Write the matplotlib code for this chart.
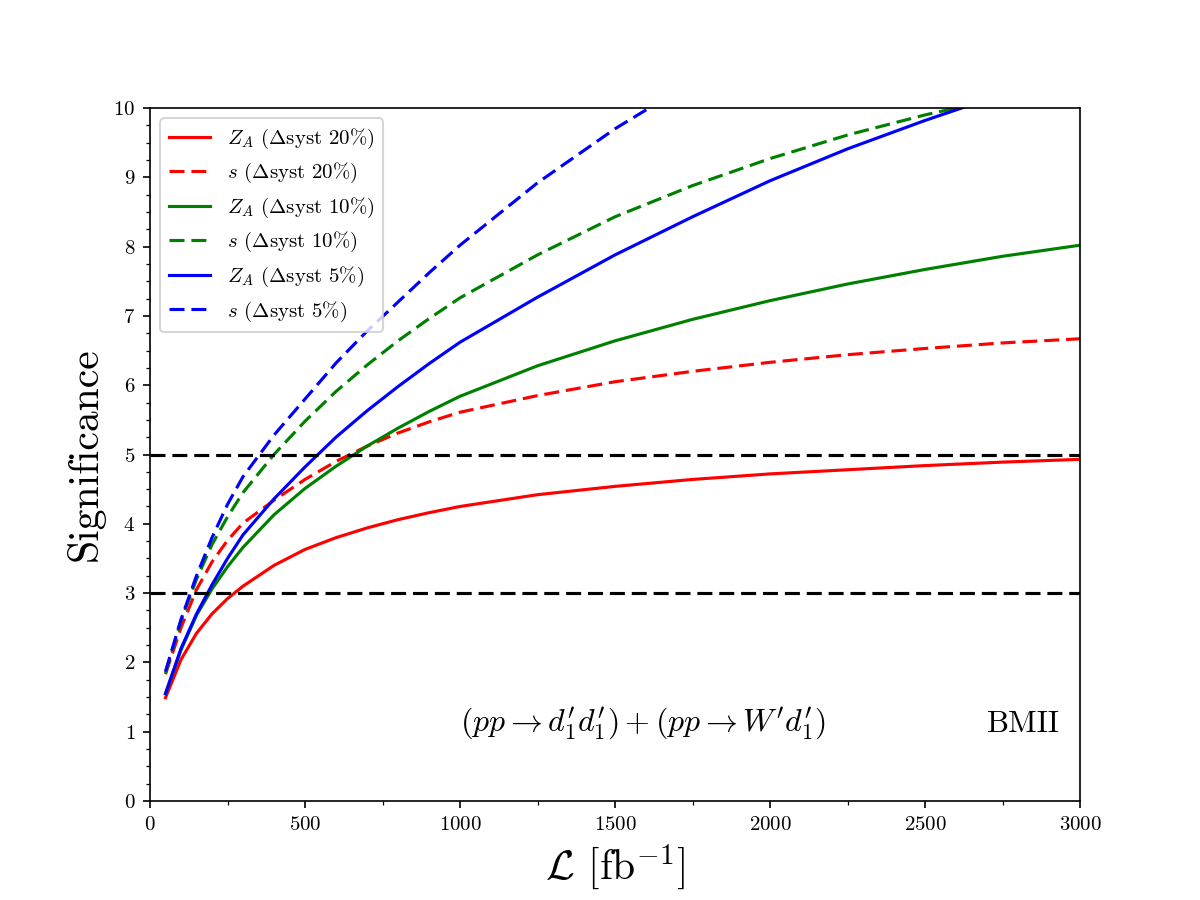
import matplotlib
matplotlib.use('Agg')
import matplotlib.pyplot as plt
from matplotlib.ticker import MultipleLocator

plt.rcParams['font.family'] = 'serif'
plt.rcParams['font.serif'] = ['cmr10']
plt.rcParams['mathtext.fontset'] = 'cm'
plt.rcParams['axes.formatter.use_mathtext'] = True

# luminosity points (fb^-1)
lumi = [50, 100, 150, 200, 250, 300, 400, 500, 600, 700, 800, 900, 1000,
        1250, 1500, 1750, 2000, 2250, 2500, 2750, 3000]

# significance
za_20 = [1.49, 2.04, 2.42, 2.70, 2.92, 3.10, 3.40, 3.63, 3.80, 3.94, 4.06,
         4.16, 4.25, 4.42, 4.54, 4.64, 4.72, 4.78, 4.84, 4.89, 4.93]
s_20 = [1.83, 2.50, 3.05, 3.45, 3.76, 4.01, 4.34, 4.64, 4.90, 5.12, 5.31,
        5.47, 5.61, 5.85, 6.05, 6.20, 6.33, 6.44, 6.53, 6.61, 6.67]
za_10 = [1.55, 2.18, 2.68, 3.06, 3.38, 3.66, 4.13, 4.51, 4.83, 5.12, 5.38,
         5.62, 5.84, 6.28, 6.64, 6.95, 7.22, 7.46, 7.67, 7.86, 8.02]
s_10 = [1.85, 2.60, 3.20, 3.70, 4.10, 4.45, 5.00, 5.48, 5.91, 6.29, 6.64,
        6.96, 7.26, 7.88, 8.43, 8.88, 9.27, 9.61, 9.90, 10.15, 10.40]
za_5 = [1.55, 2.20, 2.70, 3.12, 3.50, 3.84, 4.36, 4.82, 5.25, 5.63, 5.98,
        6.31, 6.62, 7.27, 7.88, 8.43, 8.95, 9.41, 9.82, 10.20, 10.55]
s_5 = [1.87, 2.62, 3.25, 3.80, 4.28, 4.68, 5.28, 5.80, 6.32, 6.78, 7.20,
       7.62, 8.02, 8.92, 9.70, 10.38, 11.00, 11.55, 12.05, 12.50, 12.90]

fig = plt.figure(figsize=(8, 6), dpi=150)
ax = fig.add_subplot(111)

dash = (4.8, 2.2)
ax.plot(lumi, za_20, color='red', lw=1.5, label=r'$Z_A$ ($\Delta$syst 20%)')
ax.plot(lumi, s_20, color='red', lw=1.5, ls='--', dashes=dash, label=r'$s$ ($\Delta$syst 20%)')
ax.plot(lumi, za_10, color='green', lw=1.5, label=r'$Z_A$ ($\Delta$syst 10%)')
ax.plot(lumi, s_10, color='green', lw=1.5, ls='--', dashes=dash, label=r'$s$ ($\Delta$syst 10%)')
ax.plot(lumi, za_5, color='blue', lw=1.5, label=r'$Z_A$ ($\Delta$syst 5%)')
ax.plot(lumi, s_5, color='blue', lw=1.5, ls='--', dashes=dash, label=r'$s$ ($\Delta$syst 5%)')

ax.axhline(5, color='black', ls='--', dashes=dash, lw=1.5)
ax.axhline(3, color='black', ls='--', dashes=dash, lw=1.5)

ax.text(1000, 1.0, r"$(pp\rightarrow d_1^{\prime} d_1^{\prime}) + (pp\rightarrow W^{\prime} d_1^{\prime})$",
        fontsize=15.3)
ax.text(2700, 1.0, 'BMII', fontsize=15)

ax.set_xlim(0, 3000)
ax.set_ylim(0, 10)
ax.yaxis.set_major_locator(MultipleLocator(1))
ax.xaxis.set_minor_locator(MultipleLocator(250))
ax.yaxis.set_minor_locator(MultipleLocator(0.25))
ax.set_xlabel(r'$\mathcal{L}$ [fb$^{-1}$]', fontsize=20)
ax.set_ylabel('Significance', fontsize=20)
ax.legend(loc='upper left')

plt.savefig('out.png', dpi=150)
